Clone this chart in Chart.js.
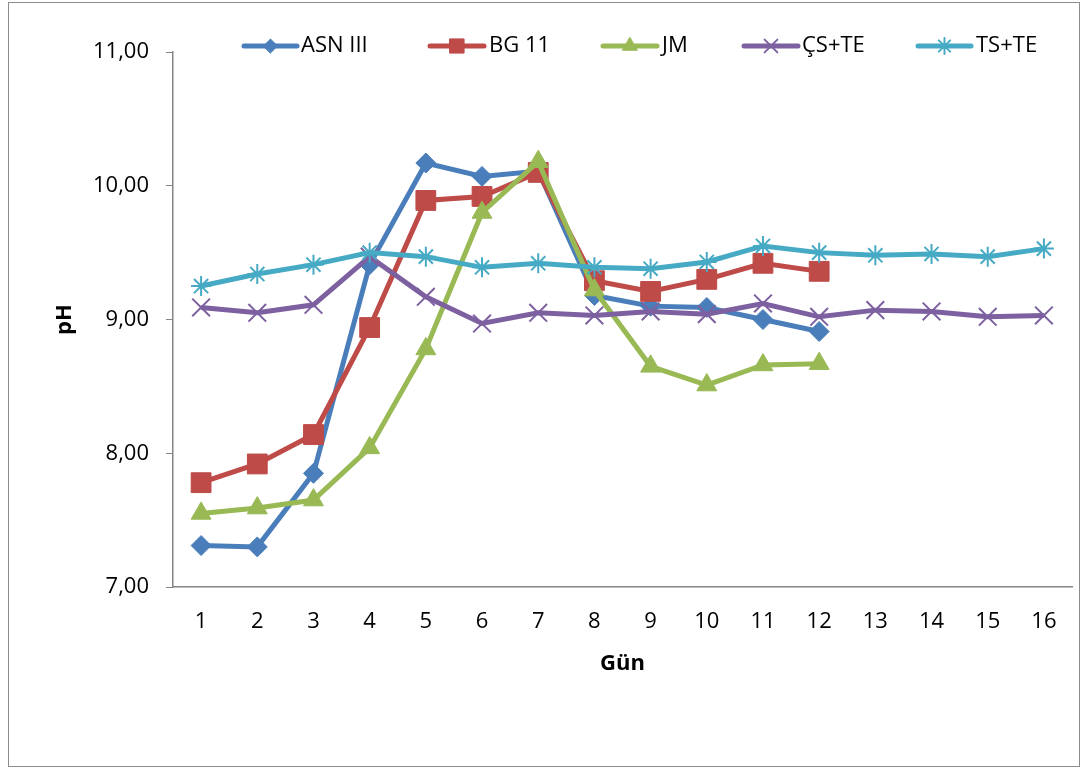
<!DOCTYPE html>
<html>
<head>
<meta charset="utf-8">
<script src="https://cdn.jsdelivr.net/npm/chart.js@4.4.0/dist/chart.umd.min.js"></script>
<style>
html,body{margin:0;padding:0;background:#fff;}
#wrap{width:1087px;height:769px;position:relative;}
</style>
</head>
<body>
<div id="wrap"><canvas id="c" width="1087" height="769"></canvas></div>
<script>
const days = ['1','2','3','4','5','6','7','8','9','10','11','12','13','14','15','16'];
const asnIII = [7.31, 7.30, 7.85, 9.41, 10.17, 10.07, 10.11, 9.18, 9.10, 9.09, 9.00, 8.91];
const bg11   = [7.78, 7.92, 8.14, 8.94, 9.89, 9.92, 10.10, 9.29, 9.21, 9.30, 9.42, 9.36];
const jm     = [7.55, 7.59, 7.65, 8.04, 8.78, 9.80, 10.18, 9.22, 8.65, 8.51, 8.66, 8.67];
const csTe   = [9.09, 9.05, 9.11, 9.47, 9.17, 8.97, 9.05, 9.03, 9.06, 9.04, 9.12, 9.02, 9.07, 9.06, 9.02, 9.03];
const tsTe   = [9.25, 9.34, 9.41, 9.50, 9.47, 9.39, 9.42, 9.39, 9.38, 9.43, 9.55, 9.50, 9.48, 9.49, 9.47, 9.53];
const seriesNames = ['ASN III', 'BG 11', 'JM', 'ÇS+TE', 'TS+TE'];
const yTicks = [7, 8, 9, 10, 11];

const FONT = "'Open Sans', 'Liberation Sans', Arial, sans-serif";
const colors = ['#4A7EBB', '#BE4B48', '#98B954', '#7D60A0', '#46AAC5'];
const styles = ['rectRot', 'rect', 'triangle', 'crossRot', 'star'];
const radii = [10, 14, 11.5, 12.5, 10];
const legendRadii = [7, 10, 8.5, 9, 8];
const allData = [asnIII, bg11, jm, csTe, tsTe];

const datasets = allData.map((d, i) => ({
  label: seriesNames[i],
  data: d,
  borderColor: colors[i],
  backgroundColor: colors[i],
  pointBackgroundColor: colors[i],
  pointBorderColor: colors[i],
  borderWidth: 5,
  pointStyle: styles[i],
  pointRadius: radii[i],
  pointBorderWidth: (i >= 3) ? 2 : 1,
  tension: 0,
  order: 5 - i,
  fill: false
}));

const legendPos = [
  {x0: 244, x1: 297, tx: 301},
  {x0: 430, x1: 484, tx: 489},
  {x0: 603, x1: 657, tx: 662},
  {x0: 744, x1: 798, tx: 802},
  {x0: 918, x1: 971, tx: 976}
];

const decor = {
  id: 'decor',
  afterDraw(chart) {
    const ctx = chart.ctx;
    ctx.save();
    ctx.strokeStyle = '#8c8c8c';
    ctx.lineWidth = 1;
    ctx.strokeRect(8.5, 2.5, 1071, 764);
    const ly = 46;
    ctx.font = "22px " + FONT;
    ctx.textBaseline = 'middle';
    ctx.textAlign = 'left';
    legendPos.forEach((p, i) => {
      ctx.strokeStyle = colors[i];
      ctx.lineWidth = 5;
      ctx.lineCap = 'round';
      ctx.beginPath();
      ctx.moveTo(p.x0, ly);
      ctx.lineTo(p.x1, ly);
      ctx.stroke();
      ctx.fillStyle = colors[i];
      ctx.strokeStyle = colors[i];
      ctx.lineWidth = (i >= 3) ? 2 : 1;
      Chart.helpers.drawPoint(ctx, {pointStyle: styles[i], radius: legendRadii[i], rotation: 0, borderWidth: ctx.lineWidth}, (p.x0 + p.x1) / 2, ly);
      ctx.fillStyle = '#000';
      ctx.fillText(seriesNames[i], p.tx, ly);
    });
    ctx.restore();
  }
};

new Chart(document.getElementById('c'), {
  type: 'line',
  data: { labels: days, datasets: datasets },
  plugins: [decor],
  options: {
    responsive: false,
    animation: false,
    layout: { padding: { left: 0, right: 9, top: 52, bottom: 0 } },
    plugins: { legend: { display: false }, tooltip: { enabled: false } },
    scales: {
      x: {
        type: 'category',
        offset: true,
        grid: { display: true, drawOnChartArea: false, drawTicks: false, color: '#868686' },
        border: { display: true, color: '#868686', width: 1.5 },
        ticks: { color: '#000', font: { family: FONT, size: 22 }, padding: 22, maxRotation: 0, autoSkip: false },
        title: { display: true, text: 'Gün', color: '#000', font: { family: FONT, size: 22, weight: 'bold' }, padding: { top: 0, bottom: 92 } },
        afterFit(scale) { scale.height = 769 - 587; scale.paddingLeft = 0; scale.paddingRight = 0; }
      },
      y: {
        min: 7, max: 11,
        afterBuildTicks(scale) { scale.ticks = yTicks.map(v => ({ value: v })); },
        grid: { display: true, drawOnChartArea: false, drawTicks: true, tickLength: 7, color: '#868686' },
        border: { display: true, color: '#868686', width: 1.5 },
        ticks: { color: '#000', font: { family: FONT, size: 22 }, padding: 17,
          callback: (v) => Number(v).toFixed(2).replace('.', ',') },
        title: { display: true, text: 'pH', color: '#000', font: { family: FONT, size: 22, weight: 'bold' }, padding: { top: 52, bottom: 0 } },
        afterFit(scale) { scale.width = 173; scale.paddingTop = 0; scale.paddingBottom = 0; }
      }
    }
  }
});
</script>
</body>
</html>
